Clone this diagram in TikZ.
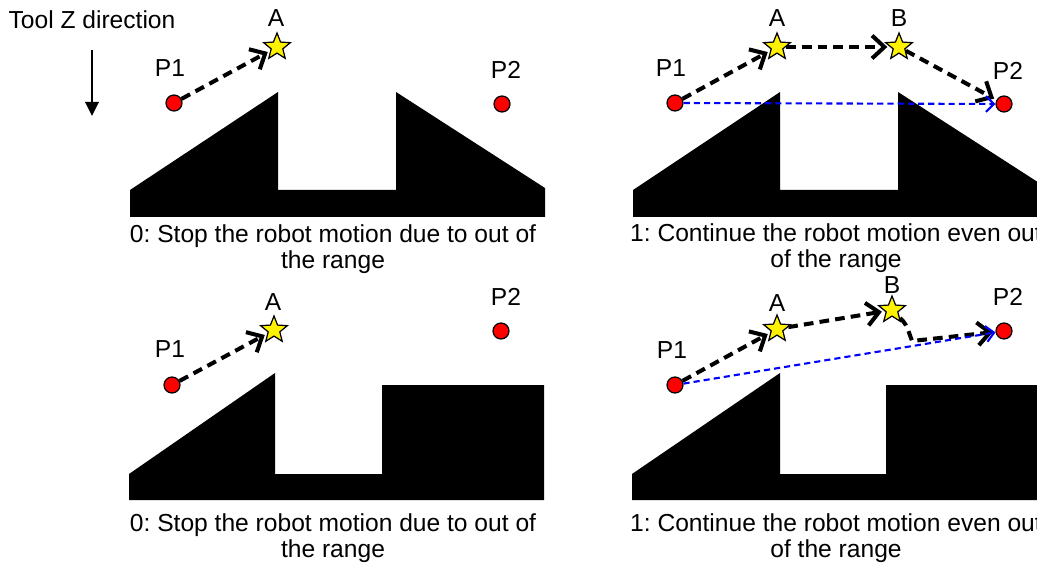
\documentclass[tikz,border=0pt]{standalone}
\usepackage{fontspec}
\setmainfont{Liberation Sans}
\usetikzlibrary{shapes.geometric,arrows.meta}
\frenchspacing

\tikzset{
  lbl/.style={font=\fontsize{14}{14.5}\selectfont, inner sep=1pt},
  caption/.style={lbl, align=center, fill=white, inner sep=1.5pt},
  endpt/.style={circle, draw=black, fill=red, line width=0.7pt, minimum size=0.32cm, inner sep=0pt},
  waypt/.style={star, star points=5, star point ratio=2.3, draw=black, fill=yellow,
    line width=0.7pt, minimum size=0.56cm, inner sep=0pt},
  route/.style={line width=2.3pt, dash pattern=on 5.5pt off 3.5pt, shorten >=1.5pt,
    -{Straight Barb[length=7pt,width=13pt,line width=2.3pt]}},
  straight/.style={blue, line width=1.2pt, dash pattern=on 3.5pt off 2.3pt,
    -{Straight Barb[length=4.5pt,width=9pt,line width=1.2pt]}},
  block/.style={fill=black}
}

\begin{document}
\begin{tikzpicture}[x=0.02cm, y=-0.02cm]
  \useasboundingbox (0,0) rectangle (1037,567);

  % tool direction
  \node[lbl] (tooldir) at (92,20) {Tool Z direction};
  \coordinate (ztop) at (92,50);
  \coordinate (zbot) at (92,116);
  \draw[line width=1.7pt, -{Triangle[length=8pt,width=7.5pt]}] (ztop) -- (zbot);

  % workpieces
  \fill[block] (130,190) -- (278,92) -- (278,190) -- (396,190) -- (396,92)
    -- (545,188) -- (545,217) -- (130,217) -- cycle;
  \fill[block] (633,190) -- (780,92) -- (780,190) -- (898,190) -- (898,92)
    -- (1047,188) -- (1047,217) -- (633,217) -- cycle;
  \fill[block] (129,474) -- (275,373) -- (275,474) -- (382,474) -- (382,385)
    -- (544,385) -- (544,500) -- (129,500) -- cycle;
  \fill[block] (632,474) -- (780,373) -- (780,474) -- (886,474) -- (886,385)
    -- (1047,385) -- (1047,500) -- (632,500) -- cycle;

  % top left
  \node[endpt] (p1a) at (174,103) {};
  \node[waypt] (aa) at (277,47) {};
  \node[endpt] (p2a) at (502,104) {};
  \node[lbl] (p1alb) at (170,68) {P1};
  \node[lbl] (aalb) at (276,18) {A};
  \node[lbl] (p2alb) at (506,70) {P2};
  \draw[route] (p1a) -- (aa);

  % top right
  \node[endpt] (p1b) at (675,103) {};
  \node[waypt] (ab) at (777,47) {};
  \node[waypt] (bb) at (899,47) {};
  \node[endpt] (p2b) at (1004,104) {};
  \node[lbl] (p1blb) at (671,68) {P1};
  \node[lbl] (ablb) at (777,18) {A};
  \node[lbl] (bblb) at (899,18) {B};
  \node[lbl] (p2blb) at (1008,71) {P2};
  \draw[route] (p1b) -- (ab);
  \draw[route] (ab) -- (bb);
  \draw[route] (bb) -- (p2b);
  \draw[straight] (p1b) -- (p2b);

  % bottom left
  \node[endpt] (p1c) at (172,385) {};
  \node[waypt] (ac) at (274,330) {};
  \node[endpt] (p2c) at (501,331) {};
  \node[lbl] (p1clb) at (170,349) {P1};
  \node[lbl] (aclb) at (273,302) {A};
  \node[lbl] (p2clb) at (506,297) {P2};
  \draw[route] (p1c) -- (ac);

  % bottom right
  \node[endpt] (p1d) at (675,385) {};
  \node[waypt] (ad) at (777,329) {};
  \node[waypt] (bd) at (892,310) {};
  \node[endpt] (p2d) at (1004,331) {};
  \coordinate (kink) at (912,341);
  \node[lbl] (p1dlb) at (672,350) {P1};
  \node[lbl] (adlb) at (777,303) {A};
  \node[lbl] (bdlb) at (892,285) {B};
  \node[lbl] (p2dlb) at (1008,297) {P2};
  \draw[route] (p1d) -- (ad);
  \draw[route] (ad) -- (bd);
  \draw[route] (bd) .. controls (906,324) .. (kink) -- (p2d);
  \draw[straight] (p1d) -- (p2d);

  % captions
  \node[caption] (capa) at (333,249) {0: Stop the robot motion due to out of\\the range};
  \node[caption] (capb) at (836,248) {1: Continue the robot motion even out\\of the range};
  \node[caption] (capc) at (333,538) {0: Stop the robot motion due to out of\\the range};
  \node[caption] (capd) at (836,538) {1: Continue the robot motion even out\\of the range};
\end{tikzpicture}
\end{document}
